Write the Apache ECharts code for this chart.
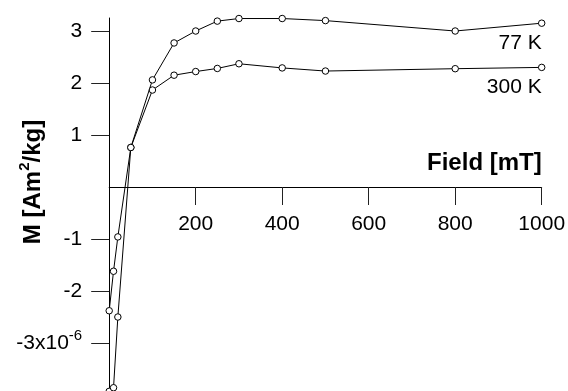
<!DOCTYPE html>
<html>
<head>
<meta charset="utf-8">
<script src="https://cdn.jsdelivr.net/npm/echarts@6/dist/echarts.min.js"></script>
<style>
  html, body { margin: 0; padding: 0; background: #fff; }
  #chart { width: 568px; height: 391px; }
</style>
</head>
<body>
<div id="chart"></div>
<script>
// field in mT, magnetisation in units of 1e-6 Am2/kg
const field77 = [0, 10, 20, 50, 100, 150, 200, 250, 300, 400, 500, 800, 1000]
const m77 = [-3.93, -3.86, -2.5, 0.76, 2.06, 2.77, 3.0, 3.19, 3.24, 3.24, 3.2, 3.0, 3.15]
const field300 = [0, 10, 20, 50, 100, 150, 200, 250, 300, 400, 500, 800, 1000]
const m300 = [-2.38, -1.62, -0.96, 0.76, 1.865, 2.15, 2.22, 2.28, 2.37, 2.29, 2.23, 2.275, 2.3]
const xTicks = [200, 400, 600, 800, 1000]
const yTicks = [-3, -2, -1, 1, 2, 3]
const seriesNames = ['77 K', '300 K']

const font = '"Liberation Sans", Arial, Helvetica, sans-serif'

// grid spans y = -4 .. 3.25, so the x axis sits this many px above the grid bottom
const yMin = -4
const yMax = 3.25
const gridTop = 18
const gridBottomPx = 395
const zeroShift = (gridBottomPx - gridTop) * (0 - yMin) / (yMax - yMin)

function makeData(xs, ys, name) {
  return xs.map((x, i) => {
    if (i < xs.length - 1) return [x, ys[i]]
    return {
      value: [x, ys[i]],
      label: {
        show: true,
        formatter: name,
        position: 'bottom',
        distance: 6,
        align: 'right',
        color: '#000',
        fontFamily: font,
        fontSize: 21
      }
    }
  })
}

function lineSeries(xs, ys, name) {
  return {
    name: name,
    type: 'line',
    data: makeData(xs, ys, name),
    symbol: 'circle',
    symbolSize: 6.5,
    showAllSymbol: true,
    animation: false,
    lineStyle: { color: '#000', width: 1 },
    itemStyle: { color: '#fff', borderColor: '#000', borderWidth: 1 },
    emphasis: { disabled: true }
  }
}

const chart = echarts.init(document.getElementById('chart'))
const option = {
  animation: false,
  backgroundColor: '#fff',
  grid: {
    left: 109.2, right: 26.3, top: gridTop, bottom: 391 - gridBottomPx,
    containLabel: false, outerBoundsMode: 'none'
  },
  xAxis: {
    type: 'value',
    min: 0,
    max: 1000,
    position: 'bottom',
    offset: -zeroShift,
    name: 'Field [mT]',
    nameLocation: 'end',
    nameGap: 0,
    nameTextStyle: {
      fontFamily: font, fontSize: 24, fontWeight: 'bold', color: '#000',
      align: 'right', verticalAlign: 'bottom', padding: [0, 0, 12, 0]
    },
    axisLine: { onZero: false, lineStyle: { color: '#000', width: 1 } },
    axisTick: { show: true, length: 18, customValues: xTicks, lineStyle: { color: '#222' } },
    axisLabel: {
      customValues: xTicks, margin: 27, color: '#000', fontFamily: font, fontSize: 21,
      hideOverlap: false, formatter: v => String(v)
    },
    splitLine: { show: false }
  },
  yAxis: {
    type: 'value',
    min: yMin,
    max: yMax,
    axisLine: { onZero: false, lineStyle: { color: '#000', width: 1 } },
    axisTick: { show: true, length: 18, customValues: yTicks, lineStyle: { color: '#222' } },
    axisLabel: {
      customValues: yTicks,
      margin: 27,
      color: '#000',
      fontFamily: font,
      fontSize: 21,
      hideOverlap: false,
      formatter: v => v === -3 ? '{n|-3x10}{sup|-6}' : '{n|' + v + '}',
      rich: {
        n: { fontFamily: font, fontSize: 21, lineHeight: 29, verticalAlign: 'middle', color: '#000' },
        sup: { fontFamily: font, fontSize: 15, lineHeight: 15, verticalAlign: 'top', color: '#000' }
      }
    },
    splitLine: { show: false }
  },
  graphic: [{
    type: 'text',
    x: 33,
    y: 182,
    rotation: Math.PI / 2,
    style: {
      text: '{b|M [Am}{s|2}{b|/kg]}',
      align: 'center',
      verticalAlign: 'middle',
      fill: '#000',
      rich: {
        b: { fontFamily: font, fontSize: 24, fontWeight: 'bold', lineHeight: 32, verticalAlign: 'middle', fill: '#000' },
        s: { fontFamily: font, fontSize: 15, fontWeight: 'bold', lineHeight: 15, verticalAlign: 'top', fill: '#000' }
      }
    }
  }],
  series: [
    lineSeries(field77, m77, seriesNames[0]),
    lineSeries(field300, m300, seriesNames[1])
  ]
}
chart.setOption(option)
</script>
</body>
</html>
